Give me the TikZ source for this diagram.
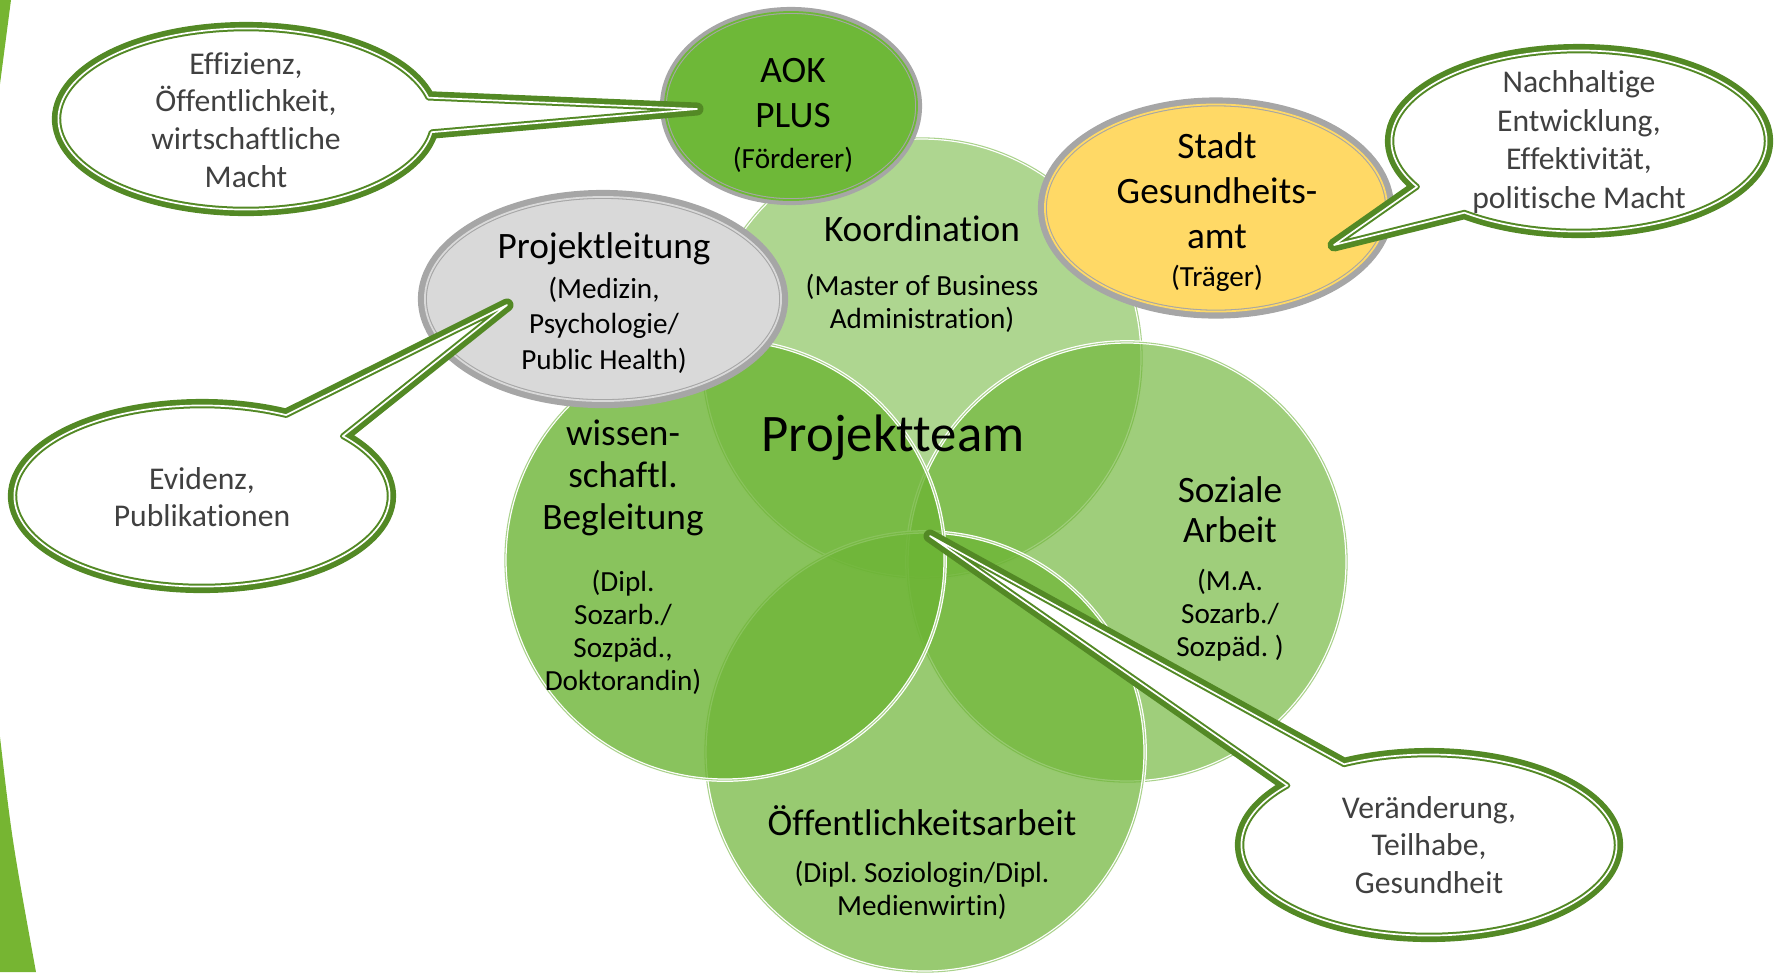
\documentclass[tikz,border=0pt]{standalone}
\usepackage{fontspec}
\setmainfont{Carlito}[Ligatures={NoCommon,NoRare}]
\frenchspacing
\usetikzlibrary{shapes.geometric,shapes.callouts}

\definecolor{venngreen}{RGB}{108,180,52}
\definecolor{vennline}{RGB}{170,210,140}
\definecolor{aokgreen}{RGB}{110,184,56}
\definecolor{bubblegreen}{RGB}{83,137,37}
\definecolor{bubbletext}{RGB}{64,64,64}
\definecolor{ringgrey}{RGB}{166,166,166}
\definecolor{stadtyellow}{RGB}{255,217,102}
\definecolor{leitgrey}{RGB}{217,217,217}
\definecolor{stripegreen}{RGB}{118,181,50}

\newcommand{\titlesz}{\fontsize{10.6}{12.8}\selectfont}
\newcommand{\subsz}{\fontsize{8.3}{9.4}\selectfont}

\tikzset{
  venn/.style={circle, minimum size=4.4cm, inner sep=0pt, fill=venngreen,
    draw=white, line width=1pt, postaction={draw=vennline, line width=0.3pt}},
  ring/.style 2 args={ellipse, inner sep=0pt, fill=#1, draw=ringgrey, double=#1,
    line width=0.3pt, double distance=0.5pt,
    preaction={draw=ringgrey, line width=#2}},
  bubble/.style={ellipse callout, callout pointer arc=22, inner sep=0pt,
    minimum width=3.75cm, minimum height=1.81cm, fill=white,
    draw=bubblegreen, double=white, line width=0.57pt, double distance=0.48pt,
    line join=round, preaction={draw=bubblegreen, line width=3.7pt, line join=round}},
  bubbletxt/.style={text=bubbletext, font=\fontsize{9}{10.7}\selectfont, align=center},
  title/.style={font=\titlesz, align=center},
  sub/.style={font=\subsz, align=center},
}

\begin{document}
\begin{tikzpicture}[x=0.01cm, y=-0.01cm]
  \useasboundingbox (0,0) rectangle (1783,972);

  % green stripe on the left edge
  \fill[stripegreen] (0,0) -- (11,0) -- (0,84) -- cycle;
  \fill[stripegreen] (0,737) .. controls (12,840) .. (36,972) -- (0,972) -- cycle;

  % the four team circles
  \node[venn, fill opacity=0.55] (koord) at (922,358) {};
  \node[venn, fill opacity=0.65] (sozial) at (1127,562) {};
  \node[venn, fill opacity=0.7] (oeff) at (925,752) {};
  \node[venn, fill opacity=0.8] (wiss) at (725,560) {};

  \node[title] (koordtitle) at (922,229) {Koordination};
  \node[sub] (koordsub) at (922,303) {(Master of Business\\Administration)};
  \node[title, font=\fontsize{10.6}{11.9}\selectfont] (wisstitle) at (623,478) {wissen-\\schaftl.\\Begleitung};
  \node[sub] (wisssub) at (623,632) {(Dipl.\\Sozarb./\\Sozpäd.,\\Doktorandin)};
  \node[title, font=\fontsize{10.6}{11.4}\selectfont] (sozialtitle) at (1230,510) {Soziale\\Arbeit};
  \node[sub] (sozialsub) at (1230,615) {(M.A.\\Sozarb./\\Sozpäd. )};
  \node[title] (oefftitle) at (922,821) {Öffentlichkeitsarbeit};
  \node[sub] (oeffsub) at (922,890) {(Dipl. Soziologin/Dipl.\\Medienwirtin)};
  \node[font=\fontsize{15}{18}\selectfont] (team) at (893,438) {Projektteam};

  % stakeholders
  \node[ring={aokgreen}{2.85pt}, minimum width=2.52cm, minimum height=1.88cm] (aok) at (791,106) {};
  \node[title] (aoktext) at (793,115) {AOK\\PLUS\\[-1.1pt]{\subsz (Förderer)}};
  \node[ring={stadtyellow}{4pt}, minimum width=3.42cm, minimum height=2.07cm] (stadt) at (1216,208) {};
  \node[title] (stadttext) at (1217,212) {Stadt\\Gesundheits-\\amt\\[-2pt]{\subsz (Träger)}};
  \node[ring={leitgrey}{4pt}, minimum width=3.56cm, minimum height=2.04cm] (leitung) at (603,299) {};
  \node[title] (leitungtext) at (604,303) {Projektleitung\\[-1.4pt]{\subsz (Medizin,}\\[-2.8pt]{\subsz Psychologie/}\\[-2.8pt]{\subsz Public Health)}};

  % speech bubbles
  \coordinate (aoktip) at (697,109);
  \coordinate (stadttip) at (1334,245);
  \coordinate (leitungtip) at (507,305);
  \coordinate (teamtip) at (930,536);

  \node[bubble, callout absolute pointer=(aoktip)] (effizienz) at (246,119) {};
  \node[bubbletxt] (effizienztext) at (246,120) {Effizienz,\\Öffentlichkeit,\\wirtschaftliche\\Macht};
  \node[bubble, callout absolute pointer=(stadttip)] (nachhaltig) at (1579,141) {};
  \node[bubbletxt, font=\fontsize{9}{11}\selectfont] (nachhaltigtext) at (1579,142) {Nachhaltige\\Entwicklung,\\Effektivität,\\politische Macht};
  \node[bubble, callout absolute pointer=(leitungtip)] (evidenz) at (202,496) {};
  \node[bubbletxt] (evidenztext) at (202,497) {Evidenz,\\Publikationen};
  \node[bubble, callout absolute pointer=(teamtip)] (veraenderung) at (1429,845) {};
  \node[bubbletxt] (veraenderungtext) at (1429,845) {Veränderung,\\Teilhabe,\\Gesundheit};
\end{tikzpicture}
\end{document}
